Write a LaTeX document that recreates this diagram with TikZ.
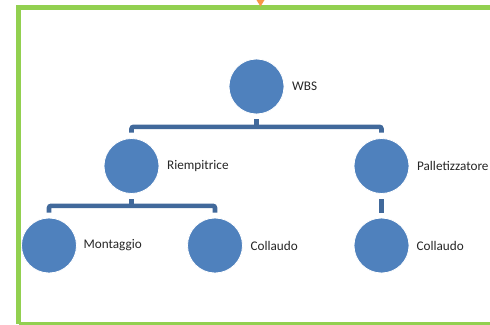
\documentclass[tikz,border=0pt]{standalone}
\usepackage{fontspec}
\setmainfont{Carlito}
\usetikzlibrary{positioning}
\definecolor{cblue}{RGB}{79,129,189}
\definecolor{lblue}{RGB}{65,105,155}
\definecolor{fgreen}{RGB}{146,208,80}
\definecolor{forange}{RGB}{247,150,70}
\begin{document}
\begin{tikzpicture}[x=1pt,y=-1pt,
  dot/.style={circle,fill=cblue,draw=white,line width=0.8pt,minimum size=55pt,inner sep=0pt},
  lbl/.style={font=\fontsize{13.2}{15}\selectfont,text=black!85,inner sep=0pt,anchor=west},
  conn/.style={draw=lblue,line width=4.6pt,rounded corners=2pt}]
\useasboundingbox (0,0) rectangle (490,324);
% frame
\draw[fgreen,line width=4.8pt] (18.5,324) -- (18.5,7.3) -- (500,7.3);
\draw[fgreen,line width=4.8pt] (18.5,324.2) -- (500,324.2);
\fill[forange] (256.5,0) -- (264.5,0) -- (260.5,6.5) -- cycle;
% nodes
\node[dot] (wbs) at (256.5,86.5) {};
\node[dot] (rie) at (131.5,166) {};
\node[dot] (pal) at (381.5,166) {};
\node[dot] (mon) at (49,245.5) {};
\node[dot] (col1) at (215,245.5) {};
\node[dot] (col2) at (381.5,245.5) {};
\node[lbl,right=7.5pt of wbs] (wbsl) {WBS};
\node[lbl,right=7.5pt of rie] (riel) {Riempitrice};
\node[lbl,right=7.5pt of pal] (pall) {Palletizzatore};
\node[lbl,right=6.5pt of mon] (monl) {Montaggio};
\node[lbl,right=7.5pt of col1] (col1l) {Collaudo};
\node[lbl,right=7pt of col2] (col2l) {Collaudo};
% connectors
\draw[conn] ([yshift=-5pt]wbs.south) -- ([yshift=-12.5pt]wbs.south);
\draw[conn] ([yshift=5.5pt]rie.north) |- ([yshift=-12.5pt]wbs.south) -| ([yshift=5.5pt]pal.north);
\draw[conn] ([yshift=-5.5pt]rie.south) -- ([yshift=-12pt]rie.south);
\draw[conn] ([yshift=5pt]mon.north) |- ([yshift=-12pt]rie.south) -| ([yshift=5pt]col1.north);
\draw[conn] ([yshift=-5.5pt]pal.south) -- ([yshift=5pt]col2.north);
\end{tikzpicture}
\end{document}
